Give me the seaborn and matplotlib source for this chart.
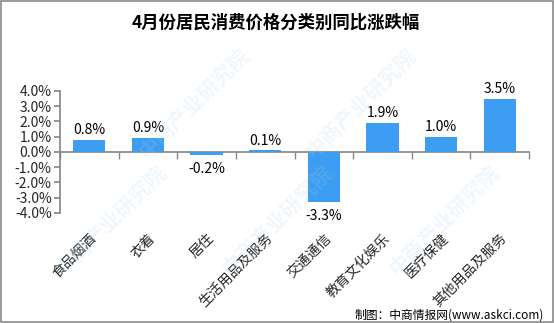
import matplotlib
matplotlib.use("Agg")
import matplotlib.pyplot as plt
import seaborn as sns
import pandas as pd
from matplotlib.ticker import FuncFormatter, FixedLocator
from matplotlib.patches import Rectangle

categories = ["食品烟酒", "衣着", "居住", "生活用品及服务", "交通通信",
              "教育文化娱乐", "医疗保健", "其他用品及服务"]
values = [0.8, 0.9, -0.2, 0.1, -3.3, 1.9, 1.0, 3.5]
yticks = [-4.0, -3.0, -2.0, -1.0, 0.0, 1.0, 2.0, 3.0, 4.0]
title = "4月份居民消费价格分类别同比涨跌幅"
footer = "制图：中商情报网(www.askci.com)"

sns.set_theme(style="white")
plt.rcParams['font.family'] = ['Noto Sans CJK SC', 'DejaVu Sans']

df = pd.DataFrame({"cat": categories, "val": values})

fig = plt.figure(figsize=(5.54, 3.23), dpi=100)
ax = fig.add_axes([60/554, 1-213/323, (529-60)/554, (213-91)/323])

# faint watermark
for fx, fy in [(0.2, 0.32), (0.5, 0.32), (0.8, 0.32), (0.35, 0.68), (0.65, 0.68)]:
    fig.text(fx, fy, "中商产业研究院", rotation=45, fontsize=15,
             color="#a9d0ee", alpha=0.18, ha="center", va="center",
             fontweight="bold", zorder=0)

sns.barplot(data=df, x="cat", y="val", color="#3d9df2", saturation=1,
            width=0.55, ax=ax, zorder=3, linewidth=0, edgecolor="none")

ax.set_ylim(-4.0, 4.0)
ax.set_xlim(-0.5, len(categories) - 0.5)
ax.yaxis.set_major_locator(FixedLocator(yticks))
ax.yaxis.set_major_formatter(FuncFormatter(lambda v, p: f"{v:.1f}%"))
ax.set_xlabel("")
ax.set_ylabel("")

for s in ["top", "right"]:
    ax.spines[s].set_visible(False)
ax.spines["left"].set_color("#888888")
ax.spines["bottom"].set_color("#888888")
ax.spines["bottom"].set_position(("data", 0))
ax.patch.set_alpha(0)

ax.tick_params(axis="y", which="major", direction="out", length=4,
               color="#888888", labelsize=10, pad=2, left=True)
ax.set_xticks(range(len(categories)))
ax.set_xticklabels(categories)
ax.set_xticks([i + 0.5 for i in range(-1, len(categories))], minor=True)
ax.tick_params(axis="x", which="major", length=0, pad=57, labelsize=10)
ax.tick_params(axis="x", which="minor", direction="out", length=5,
               color="#888888", bottom=True)
for lab in ax.get_xticklabels():
    lab.set_rotation(45)
    lab.set_ha("right")
    lab.set_va("top")
    lab.set_rotation_mode("anchor")

for i, v in enumerate(values):
    if v >= 0:
        ax.annotate(f"{v:.1f}%", (i, v), xytext=(0, 2), textcoords="offset points",
                    ha="center", va="bottom", fontsize=10, color="black")
    else:
        ax.annotate(f"{v:.1f}%", (i, v), xytext=(0, -5), textcoords="offset points",
                    ha="center", va="top", fontsize=10, color="black")

fig.text(276/554, 1-23/323, title, ha="center", va="center", fontsize=12.5,
         fontweight="bold", color="black")
fig.text(544/554, 1-315/323, footer, ha="right", va="center", fontsize=8.5,
         color="black")

fig.patches.append(Rectangle((0.001, 0.002), 0.997, 0.995, transform=fig.transFigure,
                             fill=False, edgecolor="#8a8a8a", linewidth=1.2))

fig.savefig("out.png", dpi=100)
